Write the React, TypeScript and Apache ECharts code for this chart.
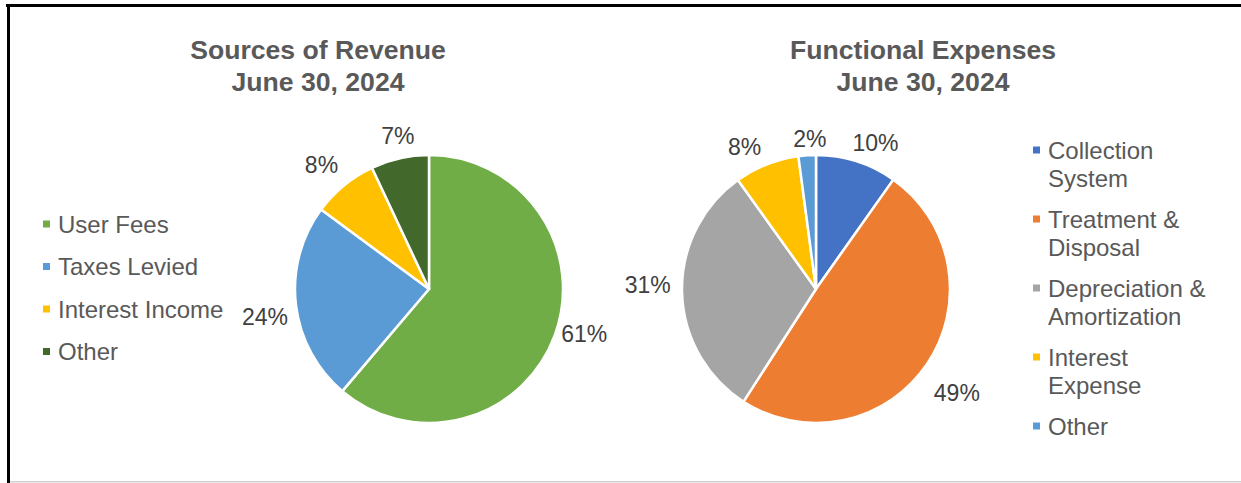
import React, { useEffect, useRef } from "react";
import * as echarts from "echarts";

// ---- Data ----
const revenueTitle = "Sources of Revenue\nJune 30, 2024";
const revenueCategories = ["User Fees", "Taxes Levied", "Interest Income", "Other"];
const revenueValues = [61.2, 23.9, 7.9, 7.0];
const revenueColors = ["#70AD47", "#5B9BD5", "#FFC000", "#43682B"];

const expenseTitle = "Functional Expenses\nJune 30, 2024";
const expenseCategories = [
  "Collection System",
  "Treatment & Disposal",
  "Depreciation & Amortization",
  "Interest Expense",
  "Other",
];
const expenseLegendLines = [
  ["Collection", "System"],
  ["Treatment &", "Disposal"],
  ["Depreciation &", "Amortization"],
  ["Interest", "Expense"],
  ["Other"],
];
const expenseValues = [9.8, 49.3, 31.0, 7.8, 2.1];
const expenseColors = ["#4472C4", "#ED7D31", "#A5A5A5", "#FFC000", "#5B9BD5"];

// ---- Layout / style ----
const FONT = 'Arial, "Liberation Sans", sans-serif';
const W = 1241;
const H = 483;
const R = 134;
const CENTERS = [
  [429, 289],
  [816, 289],
];
const LABEL_GAP = 8;
// small per-label nudges (style) to mimic the original label placement
const LABEL_NUDGE = [
  [[-2, -13], [1, 9], [-5, 1], [3, 0]],
  [[11, 6], [2, 10], [-3, -8], [-13, 6], [4, 4]],
];

function midDir(values: number[], i: number) {
  const total = values.reduce((a, b) => a + b, 0);
  let cum = 0;
  for (let j = 0; j < i; j++) cum += values[j];
  const frac = (cum + values[i] / 2) / total;
  const a = frac * 2 * Math.PI;
  return [Math.sin(a), -Math.cos(a)];
}

export default function App() {
  const ref = useRef<HTMLDivElement>(null);

  useEffect(() => {
    if (!ref.current) return;
    const chart = echarts.init(ref.current, null, { renderer: "svg" });

    const seriesValues = [revenueValues, expenseValues];

    const labelLayout = (params: any) => {
      const vals = seriesValues[params.seriesIndex];
      const [dx, dy] = midDir(vals, params.dataIndex);
      const [cx, cy] = CENTERS[params.seriesIndex];
      const hw = params.labelRect.width / 2;
      const hh = params.labelRect.height / 2;
      const off = hw * Math.abs(dx) + hh * Math.abs(dy) + LABEL_GAP;
      const nudge = LABEL_NUDGE[params.seriesIndex][params.dataIndex] || [0, 0];
      return {
        x: cx + (R + off) * dx + nudge[0],
        y: cy + (R + off) * dy + nudge[1],
        align: "center",
        verticalAlign: "middle",
      };
    };

    const makeSeries = (
      names: string[],
      values: number[],
      colors: string[],
      idx: number
    ) => ({
      type: "pie",
      center: CENTERS[idx],
      radius: R,
      startAngle: 90,
      clockwise: true,
      avoidLabelOverlap: false,
      emphasis: { disabled: true },
      data: names.map((n, i) => ({
        name: n,
        value: values[i],
        itemStyle: { color: colors[i] },
      })),
      itemStyle: { borderColor: "#ffffff", borderWidth: 2.5 },
      label: {
        show: true,
        position: "outside",
        formatter: (p: any) => Math.round(p.percent) + "%",
        fontSize: 23,
        fontFamily: FONT,
        color: "#404040",
      },
      labelLine: { show: false },
      labelLayout,
    });

    // right legend drawn as graphic (two-line items with marker on first line)
    const legendChildren: any[] = [];
    let y = 150;
    expenseLegendLines.forEach((lines, i) => {
      legendChildren.push({
        type: "rect",
        shape: { x: 1033, y: y - 3.5, width: 7, height: 7 },
        style: { fill: expenseColors[i] },
      });
      legendChildren.push({
        type: "text",
        x: 1048,
        y: y - 14,
        style: {
          text: lines.join("\n"),
          font: `24px ${FONT}`,
          fill: "#595959",
          lineHeight: 28,
          verticalAlign: "top",
          align: "left",
        },
      });
      y += lines.length * 28 + 13;
    });

    const titleStyle = {
      fontSize: 26.6,
      fontWeight: "bold",
      color: "#595959",
      lineHeight: 32,
      fontFamily: FONT,
    };

    chart.setOption({
      animation: false,
      backgroundColor: "#ffffff",
      title: [
        { text: revenueTitle, left: 318, top: 34, textAlign: "center", padding: 0, textStyle: titleStyle },
        { text: expenseTitle, left: 923, top: 34, textAlign: "center", padding: 0, textStyle: titleStyle },
      ],
      legend: {
        data: revenueCategories,
        orient: "vertical",
        left: 43,
        top: 212,
        padding: 0,
        icon: "rect",
        itemWidth: 7,
        itemHeight: 7,
        itemGap: 18.5,
        selectedMode: false,
        itemStyle: { borderWidth: 0 },
        textStyle: {
          fontSize: 24,
          fontFamily: FONT,
          color: "#595959",
          lineHeight: 24,
          padding: [0, 0, 0, 3],
        },
      },
      graphic: [
        { type: "rect", shape: { x: 6, y: 4, width: W - 6, height: 3 }, style: { fill: "#000000" } },
        { type: "rect", shape: { x: 7, y: 4, width: 3, height: H - 4 }, style: { fill: "#000000" } },
        { type: "rect", shape: { x: 10, y: 481, width: W - 10, height: 1.5 }, style: { fill: "#d0d0d0" } },
        { type: "group", children: legendChildren },
      ],
      series: [
        makeSeries(revenueCategories, revenueValues, revenueColors, 0),
        makeSeries(expenseCategories, expenseValues, expenseColors, 1),
      ],
    });

    return () => chart.dispose();
  }, []);

  return (
    <div
      ref={ref}
      style={{ position: "absolute", left: 0, top: 0, width: W, height: H }}
    />
  );
}
